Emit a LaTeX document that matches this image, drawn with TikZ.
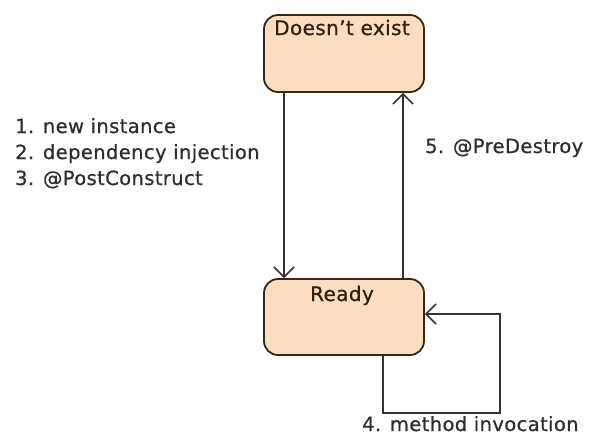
\documentclass[tikz,border=0pt]{standalone}
\usepackage{fontspec}
\setmainfont{DejaVu Sans}[LetterSpace=2,FakeBold=0.8]
\usetikzlibrary{arrows.meta}
\begin{document}
\begin{tikzpicture}[x=1pt,y=-1pt,
  statebox/.style={draw=black!70!brown, line width=1.8pt, fill=peach, rounded corners=14pt,
    minimum width=160pt, minimum height=77pt, inner sep=0pt},
  statetext/.style={font=\fontsize{20}{22}\selectfont, text=black!75!brown, inner sep=0pt, anchor=base},
  flow/.style={draw=black!80, line width=1.6pt, -{Straight Barb[length=10pt,width=20pt,line width=1.6pt]}},
  note/.style={font=\fontsize{19.5}{22}\selectfont, text=black!82, inner sep=0pt, anchor=base west}]
\definecolor{peach}{HTML}{FCDDBF}
\useasboundingbox (0,0) rectangle (597,445);

% states
\node[statebox] (dne) at (344,53.5) {};
\node[statetext] (dnet) at (342,35) {Doesn't exist};
\node[statebox, minimum height=76pt] (ready) at (344,317) {};
\node[statetext] (readyt) at (342,301) {Ready};

% transitions
\draw[flow] ([xshift=-60pt]dne.south) -- ([xshift=-60pt]ready.north);
\draw[flow] ([xshift=59pt]ready.north) -- ([xshift=59pt]dne.south);
\coordinate (loop) at (500,413);
\draw[flow] ([xshift=39pt]ready.south) |- (loop) |- ([yshift=3pt]ready.east);

% labels
\node[note] (create1) at (15,133) {1. new instance};
\node[note] (create2) at (15,159) {2. dependency injection};
\node[note] (create3) at (15,185) {3. @PostConstruct};
\node[note] (destroy) at (425,153) {5. @PreDestroy};
\node[note] (invoke) at (362,431) {4. method invocation};
\end{tikzpicture}
\end{document}
